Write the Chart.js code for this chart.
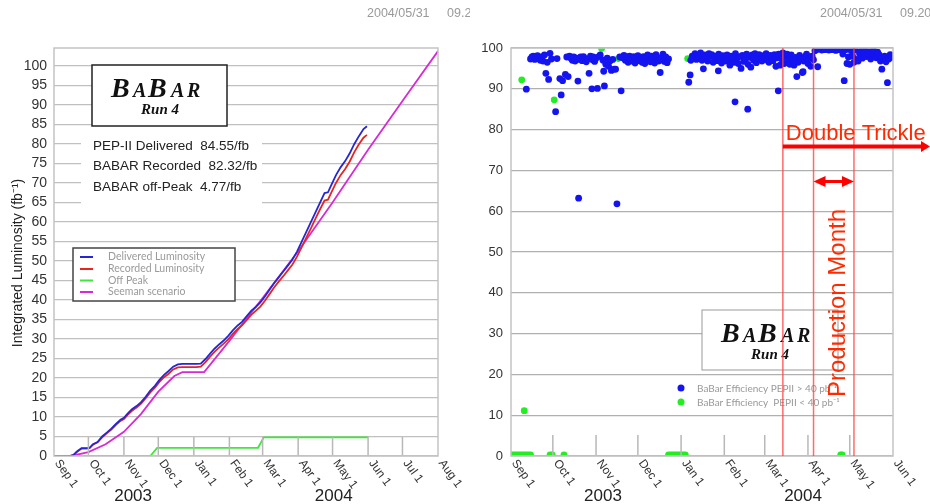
<!DOCTYPE html>
<html>
<head>
<meta charset="utf-8">
<script src="https://cdn.jsdelivr.net/npm/chart.js@4.4.1/dist/chart.umd.min.js"></script>
<style>
  body { margin: 0; background: #fff; width: 930px; height: 504px; overflow: hidden; position: relative; }
  canvas { position: absolute; top: 0; }
  #lumiChart { left: 0; }
  #effChart { left: 470px; }
</style>
</head>
<body>
<canvas id="lumiChart" width="470" height="504"></canvas>
<canvas id="effChart" width="460" height="504"></canvas>
<script>
// x values are days since Sep 1 2003
const monthDays = [0, 30, 61, 91, 122, 153, 182, 213, 243, 274, 304, 335];
const monthLabels = ['Sep 1', 'Oct 1', 'Nov 1', 'Dec 1', 'Jan 1', 'Feb 1', 'Mar 1', 'Apr 1', 'May 1', 'Jun 1', 'Jul 1', 'Aug 1'];
const yearLabels = ['2003', '2004'];
const lumiYearDays = [69, 244];
const effYearDays = [66, 209.5];

// left chart: integrated luminosity (fb-1)
const seriesNames = ['Delivered Luminosity', 'Recorded Luminosity', 'Off Peak', 'Seeman scenario'];
const seriesColors = ['#2626d6', '#e8241f', '#3ee83a', '#d62ad6'];
const lumiDays = [0, 14, 17, 20, 24, 28, 31, 34, 38, 42,
  46, 50, 54, 58, 61, 64, 68, 72, 76, 80,
  84, 88, 92, 96, 100, 104, 108, 112, 116, 120,
  124, 128, 132, 136, 140, 144, 148, 152, 156, 160,
  164, 168, 172, 176, 180, 184, 188, 192, 196, 200,
  204, 208, 212, 216, 220, 224, 228, 232, 236, 239,
  242, 246, 250, 254, 258, 262, 266, 270, 273];
const deliveredLumi = [0, 0, 0.3, 1.2, 2.0, 2.0, 2.1, 3.0, 3.6, 5.0,
  6.0, 7.0, 8.2, 9.3, 9.8, 10.8, 12.0, 12.8, 13.8, 15.2,
  16.8, 18.0, 19.5, 20.8, 21.8, 22.9, 23.5, 23.6, 23.6, 23.6,
  23.6, 23.7, 24.8, 26.2, 27.5, 28.6, 29.6, 30.8, 32.2, 33.4,
  34.4, 35.8, 37.2, 38.2, 39.4, 40.9, 42.6, 44.3, 45.8, 47.3,
  48.8, 50.4, 52.4, 54.9, 57.4, 59.9, 62.4, 64.9, 67.4, 67.6,
  69.5, 72.0, 74.0, 75.6, 77.6, 80.0, 82.0, 83.8, 84.55];
const recordedLumi = [0, 0, 0.2, 1.0, 1.9, 1.9, 2.0, 2.9, 3.5, 4.8,
  5.8, 6.8, 8.0, 9.0, 9.5, 10.5, 11.6, 12.4, 13.4, 14.8,
  16.3, 17.5, 19.0, 20.2, 21.1, 22.2, 22.7, 22.8, 22.8, 22.8,
  22.8, 22.9, 24.0, 25.4, 26.7, 27.8, 28.8, 29.9, 31.3, 32.5,
  33.5, 34.8, 36.2, 37.2, 38.3, 39.8, 41.5, 43.2, 44.7, 46.1,
  47.6, 49.1, 51.1, 53.5, 55.9, 58.3, 60.8, 63.2, 65.5, 65.7,
  67.6, 70.0, 72.0, 73.6, 75.5, 77.9, 79.9, 81.6, 82.32];
const offPeakDays = [0, 84, 90, 178, 183, 274];
const offPeakLumi = [0, 0, 2.1, 2.1, 4.77, 4.77];
const seemanDays = [0, 15, 30, 45, 61, 76, 91, 105, 112, 131, 153, 182, 213, 243, 274, 304, 335];
const seemanLumi = [0, 0, 1.0, 3.0, 6.2, 10.8, 16.5, 20.5, 21.5, 21.5, 29.5, 40.5, 52.5, 65.0, 78.5, 91.0, 103.8];
const statLines = ['PEP-II Delivered  84.55/fb', 'BABAR Recorded  82.32/fb', 'BABAR off-Peak  4.77/fb'];

// right chart: daily efficiency (%)
const effNames = ['BaBar Efficiency PEPII > 40 pb\u207B\u00B9', 'BaBar Efficiency  PEPII < 40 pb\u207B\u00B9'];
const effHighDays = [
  11, 14, 15, 16, 17, 18, 19, 20, 21, 22,
  23, 24, 25, 26, 27, 28, 29, 32, 33, 35,
  36, 37, 39, 40, 41, 42, 43, 44, 45, 46,
  47, 48, 48.5, 49, 50, 51, 52, 53, 54, 55,
  56, 57, 58, 58.5, 59, 60, 61, 62, 63, 64,
  66, 66.5, 67, 68, 69, 70, 71, 72, 73, 74,
  75, 76, 78, 79, 80, 81, 82, 83, 84, 85,
  86, 87, 88, 89, 90, 91, 92, 93, 94, 95,
  96, 97, 98, 99, 100, 101, 102, 103, 104, 105,
  106, 107, 108, 109, 110, 111, 112, 113, 127.5, 128.5,
  129, 130, 131, 132, 133, 134, 135, 136, 137, 138,
  139, 140, 141, 142, 143, 144, 145, 146, 147, 148,
  148.7, 149, 150, 151, 152, 153, 154, 155, 156, 157,
  158, 159, 160, 160.7, 161, 162, 163, 164, 165, 166,
  167, 168, 169, 169.8, 170, 171, 172, 173, 174, 175,
  176, 177, 178, 179, 180, 181, 182, 183, 184, 185,
  186, 187, 188, 189, 190, 191, 191.7, 192, 193, 194,
  195, 196, 197, 198, 199, 200, 201, 202, 203, 204,
  205, 206, 207, 208, 209, 209.5, 210, 211, 212, 213,
  214, 215, 216, 217, 218, 219, 220, 221, 222, 223,
  224, 225, 226, 227, 228, 229, 230, 231, 232, 233,
  234, 235, 236, 237, 238, 239, 240, 241, 242, 243,
  244, 245, 246, 247, 248, 249, 250, 251, 252, 253,
  254, 255, 256, 257, 258, 259, 260, 261, 262, 263,
  264, 265, 266, 267, 268, 269, 270, 271, 272, 273];
const effHighValues = [
  89.9, 97.3, 97.8, 98.0, 97.2, 97.6, 98.1, 97.5, 97.0, 97.8,
  96.8, 98.3, 93.8, 96.5, 92.3, 98.7, 97.3, 84.4, 97.4, 92.5,
  88.5, 92.0, 93.5, 97.8, 93.0, 98.0, 97.5, 97.0, 97.8, 96.8,
  97.5, 91.9, 63.2, 97.2, 97.8, 96.9, 97.9, 97.4, 96.6, 97.3,
  93.8, 98.0, 90.0, 97.1, 97.8, 96.7, 97.5, 90.1, 97.9, 98.3,
  97.0, 94.3, 90.7, 96.0, 97.5, 95.5, 96.8, 94.5, 97.2, 94.8,
  94.8, 61.8, 97.8, 89.5, 97.6, 98.2, 97.0, 97.8, 96.5, 98.0,
  97.2, 96.8, 97.9, 96.3, 97.5, 98.1, 96.9, 97.4, 96.5, 97.9,
  96.2, 97.6, 98.3, 97.1, 96.6, 98.0, 97.4, 96.3, 98.4, 97.7,
  96.8, 94.0, 97.5, 98.5, 96.7, 97.8, 96.4, 97.3, 91.6, 93.4,
  97.0, 98.0, 97.5, 98.6, 97.2, 98.2, 97.8, 98.8, 97.0, 94.9,
  98.3, 97.5, 96.8, 98.6, 97.9, 98.4, 96.5, 97.8, 98.0, 96.9,
  94.4, 98.5, 97.2, 96.3, 98.1, 97.6, 96.8, 98.3, 97.1, 95.8,
  98.0, 97.3, 96.5, 86.8, 98.6, 97.5, 96.2, 97.9, 95.0, 98.2,
  96.7, 97.3, 98.5, 85.0, 96.0, 97.7, 95.3, 98.3, 97.0, 98.6,
  96.4, 97.8, 98.4, 97.2, 96.8, 98.1, 97.5, 98.6, 97.0, 96.5,
  98.2, 97.8, 96.9, 98.4, 95.5, 97.6, 89.5, 98.5, 95.8, 97.3,
  98.8, 96.2, 97.9, 98.5, 97.0, 96.0, 98.3, 97.2, 95.8, 97.7,
  93.0, 96.5, 98.2, 97.4, 94.0, 94.2, 96.8, 97.9, 98.5, 96.2,
  97.6, 95.5, 98.0, 97.1, 99.3, 99.6, 95.4, 99.7, 99.8, 99.5,
  99.8, 99.6, 99.9, 99.7, 99.5, 99.8, 99.6, 99.9, 99.7, 99.4,
  99.8, 99.6, 99.9, 99.7, 98.5, 92.0, 99.6, 96.2, 97.8, 96.0,
  99.3, 98.0, 96.5, 99.5, 97.2, 96.8, 98.6, 99.2, 97.5, 98.8,
  99.4, 97.9, 98.5, 99.1, 97.3, 98.7, 99.5, 98.2, 97.6, 99.0,
  98.4, 96.8, 94.8, 97.5, 98.0, 96.6, 91.5, 97.3, 98.4, 97.8];
const effLowDays = [7.7, 9.5, 31, 65, 77, 126.7,
  0.5, 2, 3.5, 5, 6.5, 8, 9.5, 11, 12.5, 14, 28, 29.5,
  38, 113, 114.5, 116, 117.5, 119, 120.5, 122, 123.5, 125, 236.5, 237.5];
const effLowValues = [92.2, 11.1, 87.3, 99.9, 97.4, 97.4,
  0.3, 0.3, 0.3, 0.3, 0.3, 0.3, 0.3, 0.3, 0.3, 0.3, 0.3, 0.3,
  0.3, 0.3, 0.3, 0.3, 0.3, 0.3, 0.3, 0.3, 0.3, 0.3, 0.3, 0.3];
const doubleTrickleStart = 195;
const productionMonth = [217, 246];

const SANS = '"Liberation Sans", Arial, Helvetica, sans-serif';
const SERIF = '"Liberation Serif", "Times New Roman", serif';
const toPoints = (xs, ys) => xs.map((d, i) => ({ x: d, y: ys[i] }));

function drawDateAxis(chart, n, tickLen, yearDays) {
    const { ctx, chartArea: a, scales: { x } } = chart;
    ctx.save();
    ctx.strokeStyle = '#b8b8b8';
    ctx.lineWidth = 1.5;
    ctx.beginPath();
    for (let i = 1; i < n - 1; i++) {
        const px = x.getPixelForValue(monthDays[i]);
        ctx.moveTo(px, a.bottom);
        ctx.lineTo(px, a.bottom - tickLen);
    }
    ctx.stroke();
    // frame
    ctx.strokeStyle = '#c4c4c4';
    ctx.strokeRect(a.left, a.top, a.width, a.height);

    ctx.fillStyle = '#333';
    ctx.font = '12px ' + SANS;
    ctx.textAlign = 'left';
    ctx.textBaseline = 'middle';
    for (let i = 0; i < n; i++) {
        const px = x.getPixelForValue(monthDays[i]);
        ctx.save();
        ctx.translate(px + 3, a.bottom + 5);
        ctx.rotate(54 * Math.PI / 180);
        ctx.fillText(monthLabels[i], 0, 0);
        ctx.restore();
    }
    ctx.font = '17px ' + SANS;
    ctx.fillStyle = '#222';
    ctx.textAlign = 'center';
    yearLabels.forEach((t, i) => ctx.fillText(t, x.getPixelForValue(yearDays[i]), 496));
    ctx.restore();
}

function drawLogo(ctx, left, top, w, h, borderColor, borderWidth) {
    ctx.save();
    ctx.fillStyle = '#fff';
    ctx.fillRect(left, top, w, h);
    ctx.strokeStyle = borderColor;
    ctx.lineWidth = borderWidth;
    ctx.strokeRect(left, top, w, h);
    ctx.fillStyle = '#111';
    ctx.textAlign = 'left';
    ctx.textBaseline = 'alphabetic';
    const letters = [['B', 19, 28], ['A', 41, 20], ['B', 56, 28], ['A', 79, 20], ['R', 95, 20]];
    letters.forEach(([ch, dx, size]) => {
        ctx.font = 'italic bold ' + size + 'px ' + SERIF;
        ctx.fillText(ch, left + dx, top + 32);
    });
    ctx.font = 'italic bold 15px ' + SERIF;
    ctx.textAlign = 'center';
    ctx.fillText('Run 4', left + 68, top + 49);
    ctx.restore();
}

function drawStamp(ctx, x) {
    ctx.save();
    ctx.fillStyle = '#9a9a9a';
    ctx.font = '12.5px ' + SANS;
    ctx.textBaseline = 'middle';
    ctx.fillText('2004/05/31', x, 14);
    ctx.fillText('09.20', x + 80, 14);
    ctx.restore();
}

const lumiDecor = {
    id: 'lumiDecor',
    afterDraw(chart) {
        const { ctx } = chart;
        drawDateAxis(chart, 12, 19, lumiYearDays);

        ctx.save();
        // axis title
        ctx.translate(18, 263);
        ctx.rotate(-Math.PI / 2);
        ctx.fillStyle = '#222';
        ctx.font = '14px ' + SANS;
        ctx.textAlign = 'center';
        ctx.textBaseline = 'middle';
        ctx.fillText('Integrated Luminosity (fb\u207B\u00B9)', 0, 0);
        ctx.restore();

        drawLogo(ctx, 92, 65, 135, 61, '#222', 1.5);

        // totals
        ctx.save();
        ctx.fillStyle = '#fff';
        ctx.fillRect(81, 131, 181, 77);
        ctx.fillStyle = '#222';
        ctx.font = '13.5px ' + SANS;
        ctx.textBaseline = 'middle';
        [146, 166, 187].forEach((y, i) => ctx.fillText(statLines[i], 93, y));

        // legend
        ctx.fillStyle = '#fff';
        ctx.fillRect(73, 248, 162, 53);
        ctx.strokeStyle = '#444';
        ctx.lineWidth = 1.5;
        ctx.strokeRect(73, 248, 162, 53);
        ctx.font = '10.5px Lato, "DejaVu Sans", sans-serif';
        [257, 269, 280.5, 292].forEach((y, i) => {
            ctx.strokeStyle = seriesColors[i];
            ctx.lineWidth = 2;
            ctx.beginPath();
            ctx.moveTo(80, y);
            ctx.lineTo(93, y);
            ctx.stroke();
            ctx.fillStyle = '#9a9a9a';
            ctx.fillText(seriesNames[i], 108, y);
        });
        ctx.restore();

        drawStamp(ctx, 367);
    }
};

const effDecor = {
    id: 'effDecor',
    afterDraw(chart) {
        const { ctx, chartArea: a, scales: { x } } = chart;
        drawDateAxis(chart, 10, 21, effYearDays);
        drawLogo(ctx, 232, 310, 136, 60, '#999', 1);

        ctx.save();
        // legend
        ctx.font = '10px Lato, "DejaVu Sans", sans-serif';
        ctx.textBaseline = 'middle';
        [[388, '#1414f0'], [402, '#22ee22']].forEach(([y, c], i) => {
            ctx.fillStyle = c;
            ctx.beginPath();
            ctx.arc(211, y, 3.5, 0, Math.PI * 2);
            ctx.fill();
            ctx.fillStyle = '#999';
            ctx.fillText(effNames[i], 227, y + 1);
        });

        // run period markers
        const xs = [doubleTrickleStart, productionMonth[0], productionMonth[1]].map(d => x.getPixelForValue(d));
        ctx.strokeStyle = 'rgba(255, 70, 70, 0.8)';
        ctx.lineWidth = 1.5;
        ctx.beginPath();
        xs.forEach(px => { ctx.moveTo(px, a.top); ctx.lineTo(px, a.bottom); });
        ctx.stroke();

        ctx.fillStyle = '#ff0000';
        ctx.strokeStyle = '#ff0000';
        // double trickle arrow
        ctx.lineWidth = 4;
        ctx.beginPath();
        ctx.moveTo(xs[0], 146.5);
        ctx.lineTo(452, 146.5);
        ctx.stroke();
        ctx.beginPath();
        ctx.moveTo(460, 146.5);
        ctx.lineTo(451, 141);
        ctx.lineTo(451, 152);
        ctx.closePath();
        ctx.fill();
        // production month arrow
        ctx.lineWidth = 3;
        ctx.beginPath();
        ctx.moveTo(xs[1] + 8, 181.5);
        ctx.lineTo(xs[2] - 8, 181.5);
        ctx.stroke();
        ctx.beginPath();
        ctx.moveTo(xs[1], 181.5);
        ctx.lineTo(xs[1] + 12, 176);
        ctx.lineTo(xs[1] + 12, 187);
        ctx.closePath();
        ctx.moveTo(xs[2], 181.5);
        ctx.lineTo(xs[2] - 12, 176);
        ctx.lineTo(xs[2] - 12, 187);
        ctx.closePath();
        ctx.fill();

        ctx.fillStyle = '#ff2a00';
        ctx.font = '22px ' + SANS;
        ctx.textBaseline = 'alphabetic';
        ctx.fillText('Double Trickle', xs[0] + 3, 140);
        ctx.translate(375, 303);
        ctx.rotate(-Math.PI / 2);
        ctx.font = '24px ' + SANS;
        ctx.textAlign = 'center';
        ctx.fillText('Production Month', 0, 0);
        ctx.restore();

        drawStamp(ctx, 350);
    }
};

new Chart(document.getElementById('lumiChart'), {
    type: 'line',
    data: {
        datasets: [
            { label: seriesNames[0], data: toPoints(lumiDays, deliveredLumi), borderColor: seriesColors[0] },
            { label: seriesNames[1], data: toPoints(lumiDays, recordedLumi), borderColor: seriesColors[1] },
            { label: seriesNames[2], data: toPoints(offPeakDays, offPeakLumi), borderColor: seriesColors[2] },
            { label: seriesNames[3], data: toPoints(seemanDays, seemanLumi), borderColor: seriesColors[3] }
        ]
    },
    options: {
        responsive: false,
        animation: false,
        layout: { padding: { left: 8, right: 32, top: 48, bottom: 0 } },
        elements: { point: { radius: 0 }, line: { borderWidth: 1.8, tension: 0 } },
        plugins: { legend: { display: false }, tooltip: { enabled: false } },
        scales: {
            x: {
                type: 'linear', min: 0, max: 335,
                ticks: { display: false },
                grid: { display: false },
                border: { display: false },
                afterFit: s => { s.height = 48; }
            },
            y: {
                min: 0, max: 104.6,
                ticks: { stepSize: 5, padding: 7, color: '#333', font: { family: SANS, size: 14 } },
                afterBuildTicks: s => { s.ticks = s.ticks.filter(t => t.value % 5 === 0); },
                grid: { color: '#c0c0c0', lineWidth: 1.3, drawTicks: false },
                border: { display: false },
                afterFit: s => { s.width = 46; }
            }
        }
    },
    plugins: [lumiDecor]
});

new Chart(document.getElementById('effChart'), {
    type: 'scatter',
    data: {
        datasets: [
            { label: effNames[0], data: toPoints(effHighDays, effHighValues), backgroundColor: '#1414f0' },
            { label: effNames[1], data: toPoints(effLowDays, effLowValues), backgroundColor: '#22ee22' }
        ]
    },
    options: {
        responsive: false,
        animation: false,
        layout: { padding: { left: 0, right: 37, top: 48, bottom: 0 } },
        elements: { point: { radius: 3.4, borderWidth: 0, hoverRadius: 3.4 } },
        plugins: { legend: { display: false }, tooltip: { enabled: false } },
        scales: {
            x: {
                type: 'linear', min: 0, max: 274,
                ticks: { display: false },
                grid: { display: false },
                border: { display: false },
                afterFit: s => { s.height = 48; }
            },
            y: {
                min: 0, max: 100,
                ticks: { stepSize: 10, padding: 8, color: '#333', font: { family: SANS, size: 13 } },
                grid: { color: '#b0b0b0', lineWidth: 1.3, drawTicks: false },
                border: { display: false },
                afterFit: s => { s.width = 41; }
            }
        }
    },
    plugins: [effDecor]
});
</script>
</body>
</html>
